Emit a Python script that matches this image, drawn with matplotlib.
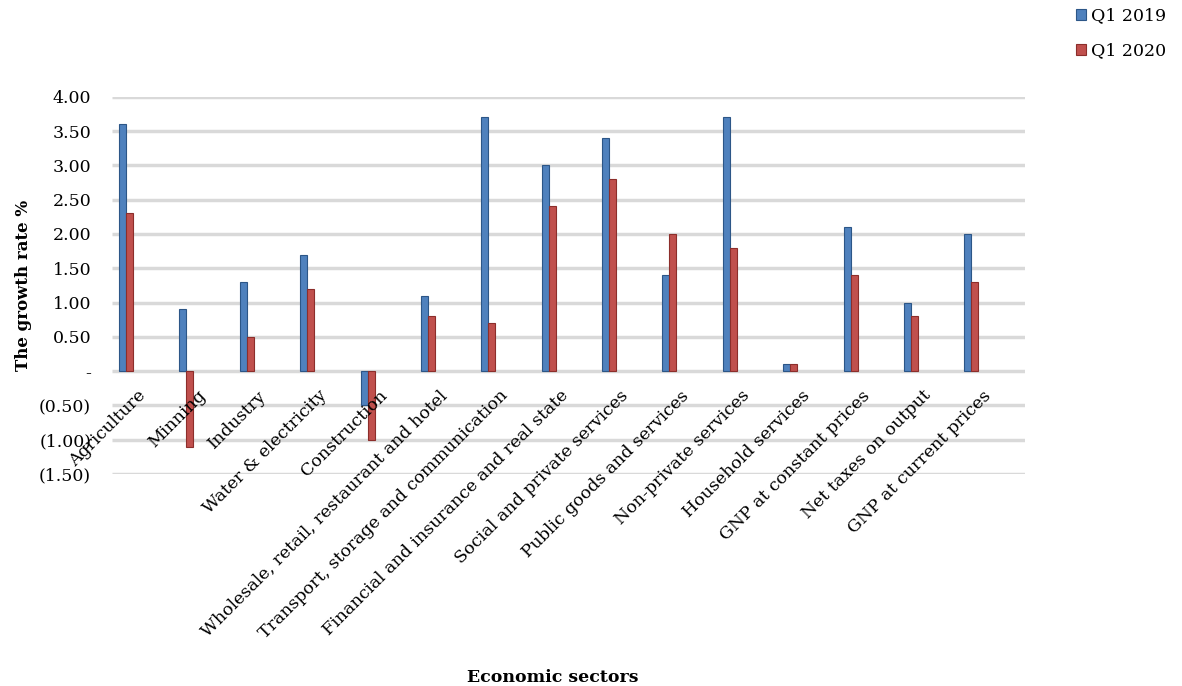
import matplotlib.pyplot as plt
import matplotlib.transforms as mtransforms
from matplotlib.ticker import FuncFormatter
import numpy as np

sectors = [
    "Agriculture", "Minning", "Industry", "Water & electricity", "Construction",
    "Wholesale, retail, restaurant and hotel", "Transport, storage and communication",
    "Financial and insurance and real state", "Social and private services",
    "Public goods and services", "Non-private services", "Household services",
    "GNP at constant prices", "Net taxes on output", "GNP at current prices",
]
q1_2019 = [3.6, 0.9, 1.3, 1.7, -0.5, 1.1, 3.7, 3.0, 3.4, 1.4, 3.7, 0.1, 2.1, 1.0, 2.0]
q1_2020 = [2.3, -1.1, 0.5, 1.2, -1.0, 0.8, 0.7, 2.4, 2.8, 2.0, 1.8, 0.1, 1.4, 0.8, 1.3]

BLUE = "#4f81bd"
BLUE_EDGE = "#2c5687"
RED = "#c0504d"
RED_EDGE = "#8c2e2b"

plt.rcParams["font.family"] = ["DejaVu Serif"]

fig = plt.figure(figsize=(11.82, 6.86), dpi=100)
ax = fig.add_axes([0.0948, 0.309, 0.772, 0.55])

x = np.arange(len(sectors))
w = 0.116
# bars sit under the tick labels (axis zorder 0.5), over the gridlines
ax.bar(x - w / 2, q1_2019, width=w, color=BLUE, edgecolor=BLUE_EDGE, linewidth=0.8,
       label="Q1 2019", zorder=0.3)
ax.bar(x + w / 2, q1_2020, width=w, color=RED, edgecolor=RED_EDGE, linewidth=0.8,
       label="Q1 2020", zorder=0.3)

ax.set_ylim(-1.5, 4.0)
ax.set_xlim(-0.23, 14.88)
yticks = np.arange(-1.5, 4.01, 0.5)
ax.set_yticks(yticks)
ax.hlines(yticks, -0.23, 14.88, color="#d9d9d9", linewidth=2.5, zorder=0)
ax.set_axisbelow(True)


def fmt(v, pos):
    if abs(v) < 1e-9:
        return "-"
    if v < 0:
        return "({:.2f})".format(-v)
    return "{:.2f}".format(v)


ax.yaxis.set_major_formatter(FuncFormatter(fmt))
ax.tick_params(axis="y", length=0, labelsize=12.5, pad=15)

for s in ax.spines.values():
    s.set_visible(False)
ax.spines["bottom"].set_position(("data", 0))

ax.set_xticks(x)
ax.set_xticklabels(sectors, rotation=45, ha="right", rotation_mode="anchor", fontsize=12.5)
ax.tick_params(axis="x", length=0, pad=0)
offset = mtransforms.ScaledTranslation(0.11, -0.16, fig.dpi_scale_trans)
for lbl in ax.get_xticklabels():
    lbl.set_transform(lbl.get_transform() + offset)

ax.set_ylabel("The growth rate %", fontsize=12, fontweight="bold", labelpad=5)
fig.text(0.468, 0.0, "Economic sectors", ha="center", va="bottom",
         fontsize=12.5, fontweight="bold")

fig.legend(loc="upper right", bbox_to_anchor=(1.0, 1.012), frameon=False, fontsize=12.5,
           handlelength=0.6, handleheight=0.6, handletextpad=0.3, labelspacing=1.05)

fig.savefig("out.png", dpi=100)
